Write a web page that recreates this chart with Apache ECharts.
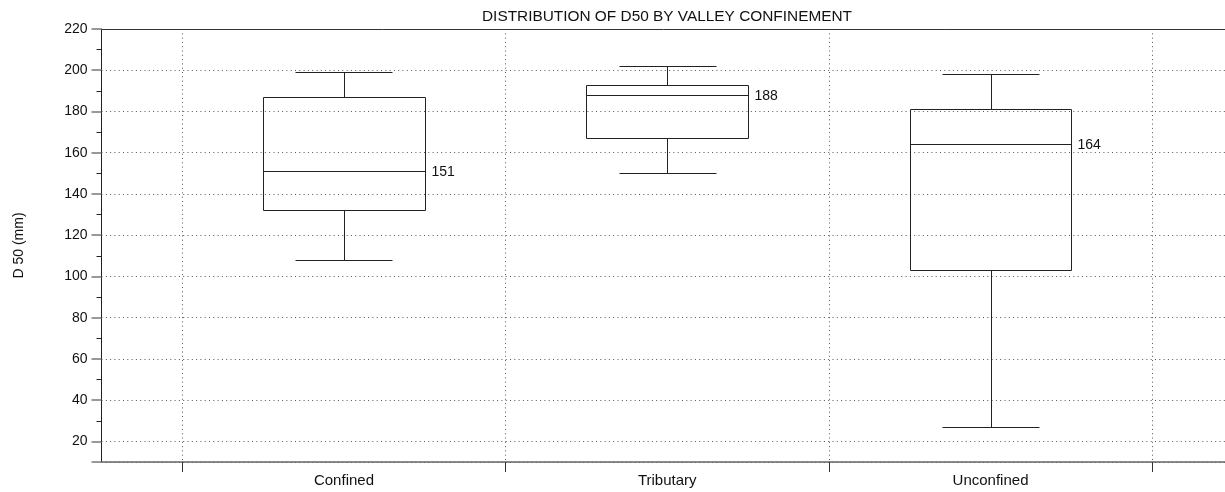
<!DOCTYPE html>
<html>
<head>
<meta charset="utf-8">
<title>Distribution of D50 by valley confinement</title>
<script src="https://cdn.jsdelivr.net/npm/echarts@6/dist/echarts.min.js"></script>
<style>
  html, body { margin: 0; padding: 0; background: #fff; }
  #chart { width: 1225px; height: 492px; }
</style>
</head>
<body>
<div id="chart"></div>
<script>
// values (mm)
const categories = ['Confined', 'Tributary', 'Unconfined'];
const whiskerLow = [108, 150, 27];
const quartile1 = [132, 167, 103];
const medians = [151, 188, 164];
const quartile3 = [187, 193, 181];
const whiskerHigh = [199, 202, 198];
// boundaries between the groups, in category units
const groupEdges = [0, 1, 2, 3];

const FONT = '"Liberation Sans", Arial, Helvetica, sans-serif';
const BOX_HALF = 0.25;   // half box width, in category units
const CAP_HALF = 0.15;   // half whisker cap width

const boxData = categories.map((c, i) => [
  i + 0.5, whiskerLow[i], quartile1[i], medians[i], quartile3[i], whiskerHigh[i]
]);

const crisp = v => Math.round(v) + 0.5;

function renderBox(params, api) {
  const x = api.value(0);
  const lo = api.value(1), q1 = api.value(2), med = api.value(3),
        q3 = api.value(4), hi = api.value(5);
  const left = crisp(api.coord([x - BOX_HALF, q3])[0]);
  const right = crisp(api.coord([x + BOX_HALF, q3])[0]);
  const mid = crisp(api.coord([x, q3])[0]);
  const capL = crisp(api.coord([x - CAP_HALF, hi])[0]);
  const capR = crisp(api.coord([x + CAP_HALF, hi])[0]);
  const yHi = crisp(api.coord([x, hi])[1]);
  const yQ3 = crisp(api.coord([x, q3])[1]);
  const yMed = crisp(api.coord([x, med])[1]);
  const yQ1 = crisp(api.coord([x, q1])[1]);
  const yLo = crisp(api.coord([x, lo])[1]);
  const line = { stroke: '#222', lineWidth: 1, fill: null };
  return {
    type: 'group',
    children: [
      { type: 'rect', shape: { x: left, y: yQ3, width: right - left, height: yQ1 - yQ3 }, style: line },
      { type: 'line', shape: { x1: left, y1: yMed, x2: right, y2: yMed }, style: line },
      { type: 'line', shape: { x1: mid, y1: yHi, x2: mid, y2: yQ3 }, style: line },
      { type: 'line', shape: { x1: mid, y1: yQ1, x2: mid, y2: yLo }, style: line },
      { type: 'line', shape: { x1: capL, y1: yHi, x2: capR, y2: yHi }, style: line },
      { type: 'line', shape: { x1: capL, y1: yLo, x2: capR, y2: yLo }, style: line },
      {
        type: 'text',
        style: {
          text: String(med), x: right + 6, y: yMed + 1,
          align: 'left', verticalAlign: 'middle',
          fontSize: 14, fontFamily: FONT, fill: '#111'
        }
      }
    ]
  };
}

const dotted = { color: '#555', width: 1, type: [1, 3.3] };

const option = {
  animation: false,
  backgroundColor: '#fff',
  title: {
    text: 'DISTRIBUTION OF D50 BY VALLEY CONFINEMENT',
    left: 667,
    top: 9,
    textAlign: 'center',
    padding: 0,
    textStyle: { fontSize: 15.4, fontWeight: 'normal', color: '#111', fontFamily: FONT }
  },
  grid: { left: 101.5, width: 1131.5, top: 29, bottom: 30, outerBoundsMode: 'none', containLabel: false },
  xAxis: [{
    type: 'value',
    position: 'bottom',
    min: -0.25,
    max: 3.25,
    splitNumber: 4,
    axisLine: { show: true, onZero: false, lineStyle: { color: '#666', width: 1.5 } },
    axisTick: { show: true, length: 10, customValues: groupEdges, lineStyle: { color: '#333' } },
    axisLabel: { show: false },
    splitLine: { show: true, lineStyle: dotted }
  }, {
    type: 'value',
    position: 'bottom',
    min: -0.75,
    max: 2.75,
    splitNumber: 4,
    axisLine: { show: false, onZero: false },
    axisTick: { show: false },
    splitLine: { show: false },
    axisLabel: {
      show: true,
      margin: 11,
      showMinLabel: false,
      showMaxLabel: false,
      fontSize: 15,
      color: '#111',
      fontFamily: FONT,
      formatter: v => (Number.isInteger(v) && categories[v]) ? categories[v] : ''
    }
  }, {
    type: 'value',
    position: 'top',
    min: -0.25,
    max: 3.25,
    axisLine: { show: true, onZero: false, lineStyle: { color: '#333', width: 1 } },
    axisTick: { show: false },
    axisLabel: { show: false },
    splitLine: { show: false }
  }],
  yAxis: {
    type: 'value',
    min: 10,
    max: 220,
    splitNumber: 10,
    name: 'D 50 (mm)',
    nameLocation: 'middle',
    nameGap: 75,
    nameTextStyle: { fontSize: 14, color: '#111', fontFamily: FONT },
    axisLine: { show: true, onZero: false, lineStyle: { color: '#222', width: 1 } },
    axisTick: { show: true, length: 10, lineStyle: { color: '#777', width: 1.5 } },
    minorTick: { show: true, splitNumber: 2, length: 5, lineStyle: { color: '#222' } },
    axisLabel: { fontSize: 14, color: '#111', margin: 14, fontFamily: FONT, showMinLabel: false },
    splitLine: { show: true, lineStyle: dotted }
  },
  series: [{
    type: 'custom',
    name: 'D50',
    xAxisIndex: 0,
    yAxisIndex: 0,
    renderItem: renderBox,
    encode: { x: 0, y: [1, 2, 3, 4, 5] },
    data: boxData,
    clip: false
  }]
};

const chart = echarts.init(document.getElementById('chart'), null, { renderer: 'canvas' });
chart.setOption(option);
window.onresize = function () {
  chart.resize();
};
</script>
</body>
</html>
